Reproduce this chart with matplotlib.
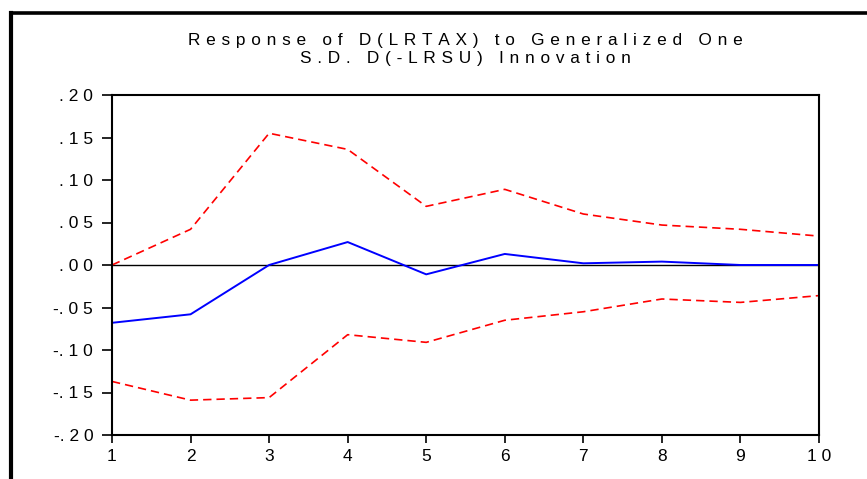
import matplotlib

matplotlib.use("Agg")

import matplotlib.pyplot as plt
from matplotlib.lines import Line2D

# impulse response and +/- 2 s.e. bands
periods = [1, 2, 3, 4, 5, 6, 7, 8, 9, 10]
response = [-0.068, -0.058, 0.000, 0.027, -0.011, 0.013, 0.002, 0.004, 0.000, 0.000]
upper_band = [0.000, 0.042, 0.155, 0.136, 0.069, 0.089, 0.060, 0.047, 0.042, 0.034]
lower_band = [-0.137, -0.159, -0.156, -0.082, -0.091, -0.065, -0.055, -0.040, -0.044, -0.036]

y_ticks = [0.20, 0.15, 0.10, 0.05, 0.00, -0.05, -0.10, -0.15, -0.20]
y_tick_labels = [". 2 0", ". 1 5", ". 1 0", ". 0 5", ". 0 0", "-. 0 5", "-. 1 0", "-. 1 5", "-. 2 0"]
x_tick_labels = ["1", "2", "3", "4", "5", "6", "7", "8", "9", "1 0"]

title_lines = ["Response of D(LRTAX) to Generalized One", "S.D. D(-LRSU) Innovation"]

GAP = "\u2004"  # three-per-em space


def spaced(text: str) -> str:
    # EViews-style loose letter spacing
    words = [GAP.join(word) for word in text.split(" ")]
    return (GAP + " " + GAP).join(words)


plt.rcParams["font.family"] = ["Liberation Sans", "DejaVu Sans"]

fig = plt.figure(figsize=(8.67, 4.79), dpi=100)
ax = fig.add_axes([112 / 867, 1 - 435 / 479, (819 - 112) / 867, (435 - 95) / 479])

ax.axhline(0.0, color="black", linewidth=1.0)
ax.plot(periods, upper_band, color="#ff0000", linewidth=1.2, linestyle=(0, (5, 3)))
ax.plot(periods, lower_band, color="#ff0000", linewidth=1.2, linestyle=(0, (5, 3)))
ax.plot(periods, response, color="#0000ff", linewidth=1.4)

ax.set_xlim(1, 10)
ax.set_ylim(-0.20, 0.20)
ax.set_xticks(periods)
ax.set_xticklabels(x_tick_labels)
ax.set_yticks(y_ticks)
ax.set_yticklabels(y_tick_labels)
ax.tick_params(axis="y", direction="out", length=7.5, width=1.2, labelsize=12.5, pad=6, colors="black")
ax.tick_params(axis="x", direction="out", length=6, width=1.2, labelsize=12.5, pad=4, colors="black")
for spine in ax.spines.values():
    spine.set_linewidth(1.5)
    spine.set_color("black")

for i, line in enumerate(title_lines):
    fig.text(465 / 867, 1 - (45 + 18.5 * i) / 479, spaced(line), ha="center", va="baseline", fontsize=12.4)

# outer frame (top and left edges visible)
fig.add_artist(Line2D([11.3 / 867, 11.3 / 867], [0, 1 - 13.3 / 479], transform=fig.transFigure,
                      color="black", linewidth=3.0, solid_capstyle="projecting"))
fig.add_artist(Line2D([11.3 / 867, 1], [1 - 13.3 / 479, 1 - 13.3 / 479], transform=fig.transFigure,
                      color="black", linewidth=2.6, solid_capstyle="projecting"))

fig.savefig("out.png", dpi=100)
plt.close(fig)
